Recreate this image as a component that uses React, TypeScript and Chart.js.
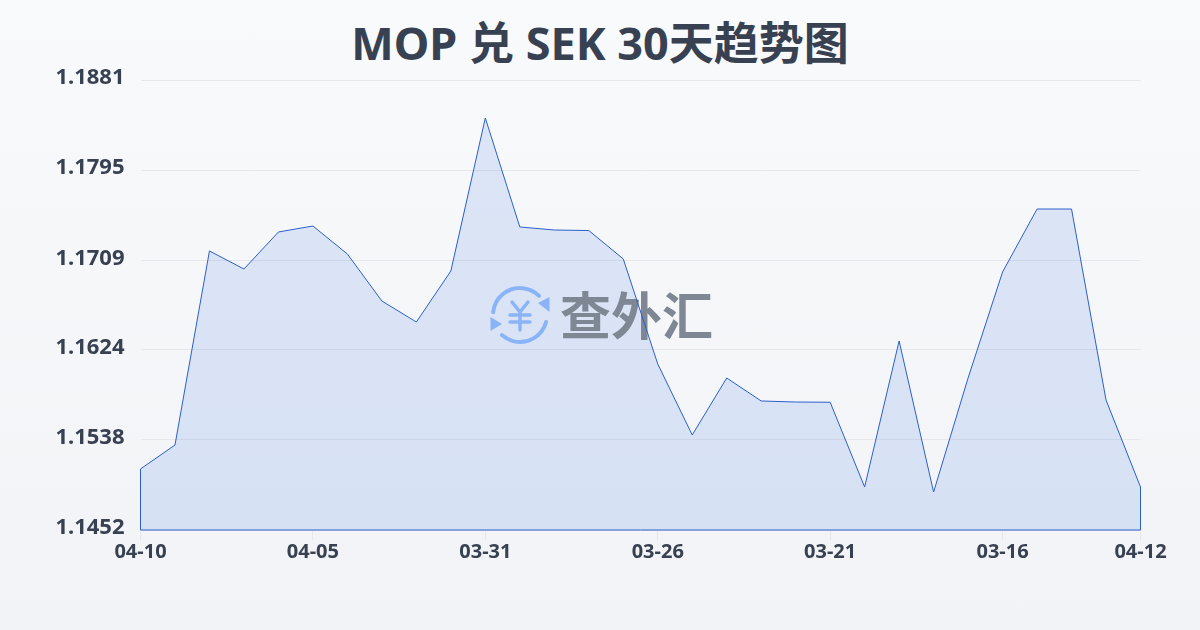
import { useRef, useEffect } from "react";
import { Chart, registerables } from "chart.js";

Chart.register(...registerables);

const title = "MOP 兑 SEK 30天趋势图";
const dates = [
  "04-10", "04-09", "04-08", "04-07", "04-06", "04-05", "04-04", "04-03", "04-02", "04-01",
  "03-31", "03-30", "03-29", "03-28", "03-27", "03-26", "03-25", "03-24", "03-23", "03-22",
  "03-21", "03-20", "03-19", "03-18", "03-17", "03-16", "03-15", "03-14", "03-13", "04-12",
];
const rates = [
  1.15102, 1.1533, 1.1718, 1.17008, 1.17361, 1.17418, 1.17151, 1.16703, 1.16503, 1.16989,
  1.18448, 1.17409, 1.1738, 1.17375, 1.17104, 1.16103, 1.15426, 1.15969, 1.1575, 1.1574,
  1.15738, 1.1493, 1.16322, 1.14882, 1.15969, 1.1698, 1.1758, 1.1758, 1.15759, 1.1493,
];
const yTicks = [1.1452, 1.1538, 1.1624, 1.1709, 1.1795, 1.1881];
const xTickIndexes = [0, 5, 10, 15, 20, 25, 29];

const FONT = '"Noto Sans", "Noto Sans CJK SC", sans-serif';
const LINE = "#2b5fc9";

const edgePlugin = {
  id: "edges",
  afterDatasetsDraw(chart: Chart) {
    const pts = chart.getDatasetMeta(0).data;
    const { ctx, chartArea } = chart;
    ctx.save();
    ctx.strokeStyle = LINE;
    ctx.lineWidth = 1;
    ctx.beginPath();
    ctx.moveTo(pts[0].x, pts[0].y);
    ctx.lineTo(pts[0].x, chartArea.bottom);
    ctx.lineTo(pts[pts.length - 1].x, chartArea.bottom);
    ctx.lineTo(pts[pts.length - 1].x, pts[pts.length - 1].y);
    ctx.stroke();
    ctx.restore();
  },
};

// logo sits between the area fill and the line
const watermarkPlugin = {
  id: "watermark",
  beforeDatasetDraw(chart: Chart, args: { index: number }) {
    if (args.index !== 0) return;
    const { ctx } = chart;
    const cx = 520;
    const cy = 315;
    const r = 27;
    const blue = "#8ab4f8";
    ctx.save();
    ctx.strokeStyle = blue;
    ctx.fillStyle = blue;
    ctx.lineWidth = 4;
    ctx.lineCap = "round";
    ctx.lineJoin = "round";

    ctx.beginPath();
    ctx.arc(cx, cy, r, (186 / 180) * Math.PI, (315 / 180) * Math.PI);
    ctx.stroke();
    ctx.beginPath();
    ctx.moveTo(cx + 18, cy - 12);
    ctx.lineTo(cx + 29.5, cy - 18);
    ctx.lineTo(cx + 29.5, cy - 3);
    ctx.closePath();
    ctx.fill();

    ctx.beginPath();
    ctx.arc(cx, cy, r, (15 / 180) * Math.PI, (132 / 180) * Math.PI);
    ctx.stroke();
    ctx.beginPath();
    ctx.moveTo(cx - 18, cy + 9);
    ctx.lineTo(cx - 29.5, cy + 2);
    ctx.lineTo(cx - 29.5, cy + 16);
    ctx.closePath();
    ctx.fill();

    ctx.lineWidth = 3.5;
    ctx.beginPath();
    ctx.moveTo(cx - 8, cy - 13);
    ctx.lineTo(cx, cy - 3);
    ctx.lineTo(cx + 8, cy - 13);
    ctx.moveTo(cx, cy - 3);
    ctx.lineTo(cx, cy + 15);
    ctx.moveTo(cx - 10, cy);
    ctx.lineTo(cx + 10, cy);
    ctx.moveTo(cx - 10, cy + 7);
    ctx.lineTo(cx + 10, cy + 7);
    ctx.stroke();

    ctx.fillStyle = "#7f8694";
    ctx.textAlign = "left";
    ctx.textBaseline = "middle";
    ctx.font = '700 51px "Noto Sans CJK SC", sans-serif';
    ctx.fillText("查外汇", 560, 316);
    ctx.restore();
  },
};

const App = () => {
  const chartRef = useRef<HTMLCanvasElement | null>(null);
  const chartInstance = useRef<Chart | null>(null);

  useEffect(() => {
    if (!chartRef.current) return;

    chartInstance.current = new Chart(chartRef.current, {
      type: "line",
      data: {
        labels: dates,
        datasets: [
          {
            data: rates,
            borderColor: LINE,
            borderWidth: 1,
            fill: false,
            tension: 0,
            pointRadius: 0,
          },
          {
            data: rates,
            borderWidth: 0,
            backgroundColor: "rgba(59, 110, 225, 0.14)",
            fill: "start",
            tension: 0,
            pointRadius: 0,
          },
        ],
      },
      plugins: [watermarkPlugin, edgePlugin],
      options: {
        animation: false,
        responsive: false,
        layout: { padding: { left: 0, right: 59.5, top: 80, bottom: 0 } },
        plugins: {
          legend: { display: false },
          tooltip: { enabled: false },
        },
        scales: {
          x: {
            offset: false,
            afterBuildTicks(axis) {
              axis.ticks = xTickIndexes.map((i) => ({ value: i }));
            },
            afterFit(axis) {
              axis.height = 100;
            },
            grid: { drawOnChartArea: false, drawTicks: true, tickLength: 10, color: "#e5e7eb" },
            border: { display: false },
            ticks: {
              autoSkip: false,
              maxRotation: 0,
              color: "#374151",
              padding: 0,
              font: { family: FONT, size: 20, weight: "bold" },
              callback: (_v, i) => dates[xTickIndexes[i]],
            },
          },
          y: {
            min: yTicks[0],
            max: yTicks[yTicks.length - 1],
            afterBuildTicks(axis) {
              axis.ticks = yTicks.map((v) => ({ value: v }));
            },
            afterFit(axis) {
              axis.width = 140.5;
            },
            grid: { drawTicks: false, color: "#e5e7eb" },
            border: { display: false },
            ticks: {
              color: "#374151",
              padding: 16,
              labelOffset: -2,
              font: { family: FONT, size: 22, weight: "bold" },
              callback: (v) => Number(v).toFixed(4),
            },
          },
        },
      },
    });

    return () => {
      if (chartInstance.current) {
        chartInstance.current.destroy();
      }
    };
  }, []);

  return (
    <div
      style={{
        position: "absolute",
        left: 0,
        top: 0,
        width: 1200,
        height: 630,
        background: "linear-gradient(180deg, #f8fafc 0%, #f1f3f6 100%)",
      }}
    >
      <div
        style={{
          position: "absolute",
          left: 0,
          top: 13,
          width: 1200,
          textAlign: "center",
          fontFamily: FONT,
          fontSize: 45,
          fontWeight: 700,
          lineHeight: "60px",
          color: "#374151",
        }}
      >
        {title}
      </div>
      <canvas ref={chartRef} width={1200} height={630} style={{ display: "block", position: "absolute" }} />
    </div>
  );
};

export default App;
